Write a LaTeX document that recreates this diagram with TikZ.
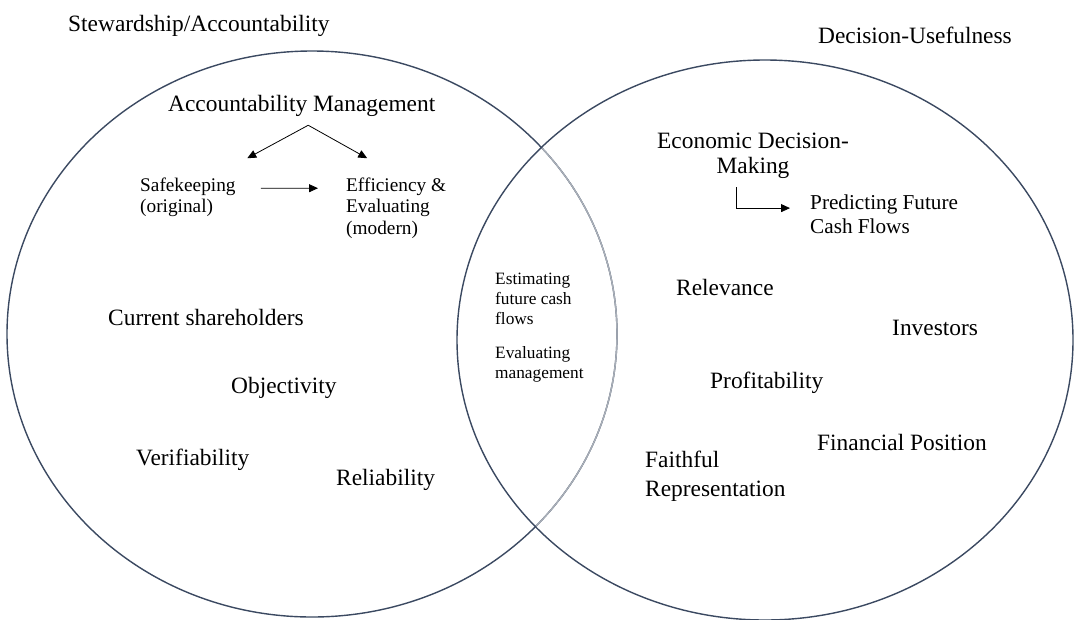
\documentclass[tikz,border=0pt]{standalone}
\usepackage{fontspec}
\setmainfont{Liberation Serif}
\usetikzlibrary{arrows.meta,calc}
\definecolor{ringdark}{HTML}{3B4961}
\definecolor{ringlight}{HTML}{A9AFB8}
\begin{document}
\begin{tikzpicture}[x=1pt,y=-1pt,
  bigtxt/.style={font=\fontsize{23.4}{28}\selectfont, inner sep=0pt, anchor=base west},
  midtxt/.style={font=\fontsize{19.3}{21.5}\selectfont, inner sep=0pt, anchor=base west, align=left},
  predtxt/.style={font=\fontsize{21.2}{23.5}\selectfont, inner sep=0pt, anchor=base west, align=left},
  smalltxt/.style={font=\fontsize{17.3}{20}\selectfont, inner sep=0pt, anchor=base west, align=left},
  ring/.style={draw=ringdark, line width=1.4pt},
  arr/.style={-{Triangle[length=9pt,width=8pt]}, line width=0.8pt}]
\useasboundingbox (0,0) rectangle (1075,619);

% the two overlapping sets
\draw[ring] (312,334) ellipse [x radius=305pt, y radius=283pt];
\begin{scope}
  \clip (765,340) ellipse [x radius=308pt, y radius=280pt];
  \draw[draw=ringlight, line width=1.4pt] (312,334) ellipse [x radius=305pt, y radius=283pt];
\end{scope}
\draw[ring] (765,340) ellipse [x radius=308pt, y radius=280pt];

% set titles
\node[bigtxt] (stew) at (68,31) {Stewardship/Accountability};
\node[bigtxt, anchor=base east] (dec) at (1012,43) {Decision-Usefulness};

% stewardship side (multi-line nodes sit on the baseline of their last line)
\node[bigtxt] (acct) at (168,111) {Accountability Management};
\node[midtxt] (safe) at (140,212.5) {Safekeeping\\(original)};
\node[midtxt] (eff) at (346,234) {Efficiency \&\\Evaluating\\(modern)};
\draw[arr] ($(acct.south)+(6.5,9)$) -- ($(acct.south)+(-54.5,42)$);
\draw[arr] ($(acct.south)+(6.5,9)$) -- ($(acct.south)+(65.5,42)$);
\draw[arr] ($(safe.north east)+(25,11)$) -- ($(eff.north west)+(-28,11)$);

\node[bigtxt] (cur) at (108,325) {Current shareholders};
\node[bigtxt] (obj) at (231,393) {Objectivity};
\node[bigtxt] (ver) at (136,465) {Verifiability};
\node[bigtxt] (rel) at (336,485) {Reliability};

% shared region
\node[smalltxt] (est) at (495,324) {Estimating\\future cash\\flows};
\node[smalltxt] (evm) at (495,378) {Evaluating\\management};

% decision-usefulness side
\node[font=\fontsize{23.4}{25}\selectfont, inner sep=0pt, anchor=base, align=center] (econ) at (753,173) {Economic Decision-\\Making};
\node[predtxt] (pred) at (810,233) {Predicting Future\\Cash Flows};
\draw[arr] ($(econ.south)+(-17,9)$) |- ($(pred.north west)+(-20,13.5)$);

\node[bigtxt] (relv) at (676,295) {Relevance};
\node[bigtxt] (inv) at (892,335) {Investors};
\node[bigtxt] (prof) at (710,388) {Profitability};
\node[bigtxt] (fin) at (817,450) {Financial Position};
\node[font=\fontsize{23.4}{29}\selectfont, inner sep=0pt, anchor=base west, align=left] (faith) at (645,496) {Faithful\\Representation};
\end{tikzpicture}
\end{document}
